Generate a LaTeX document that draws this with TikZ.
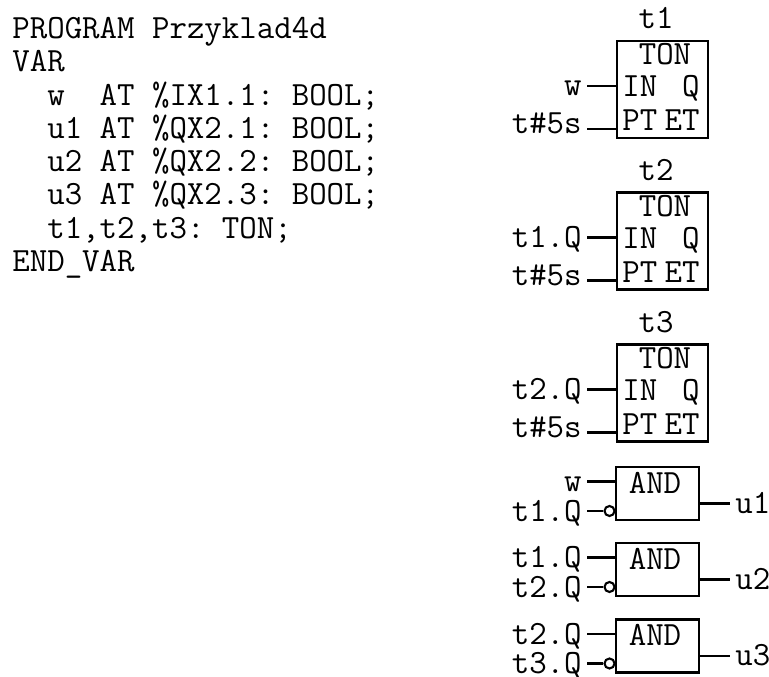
\documentclass[tikz,border=0pt]{standalone}
\begin{document}
\begin{tikzpicture}[
    x=1cm,y=1cm,
    every node/.style={font=\ttfamily\fontsize{19.3}{18.94}\selectfont\frenchspacing},
    block/.style={draw=black, line width=1.2pt},
    ton/.style={block, minimum width=1.82cm, minimum height=1.94cm},
    andgate/.style={block, minimum width=1.66cm, minimum height=1.06cm},
    neg/.style={draw=black, line width=1.2pt, circle, inner sep=0pt, minimum size=0.2cm},
    txt/.style={inner sep=0pt},
    lbl/.style={inner ysep=0pt, inner xsep=0.1cm},
    wire/.style={line width=1.3pt}
]
    \useasboundingbox (0,0) rectangle (15.38,13.54);

    \node[txt, anchor=north west, align=left] (code) at (0.24,13.2) {PROGRAM Przyklad4d\\VAR\\~~w~~AT \%IX1.1: BOOL;\\~~u1 AT \%QX2.1: BOOL;\\~~u2 AT \%QX2.2: BOOL;\\~~u3 AT \%QX2.3: BOOL;\\~~t1,t2,t3: TON;\\END\_VAR};

    % timers
    \foreach \n/\cy/\src in {1/11.75/w, 2/8.72/t1.Q, 3/5.68/t2.Q} {
        \node[ton] (t\n) at (13.25,\cy) {};
        \node[txt, anchor=base] (name\n) at (13.12,\cy+1.21) {t\n};
        \node[txt, anchor=base] (type\n) at (13.3,\cy+0.49) {TON};
        \node[txt, anchor=base west] (pin\n) at (12.44,\cy-0.15) {IN};
        \node[txt, anchor=base east] (q\n) at (14.0,\cy-0.15) {Q};
        \node[txt, anchor=base west] (pt\n) at (12.44,\cy-0.83) {PT};
        \node[txt, anchor=base east] (et\n) at (14.0,\cy-0.83) {ET};
        \node[lbl, anchor=base east] (in\n) at (11.74,\cy-0.13) {\src};
        \node[lbl, anchor=base east] (time\n) at (11.74,\cy-0.89) {t\#5s};
        \coordinate (ina\n) at (12.34,\cy+0.07);
        \coordinate (inb\n) at (12.34,\cy-0.79);
        \draw[wire] (in\n.east |- ina\n) -- (ina\n);
        \draw[wire] (time\n.east |- inb\n) -- (inb\n);
    }

    % and gates
    \foreach \n/\cy/\a/\b in {1/3.67/w/t1.Q, 2/2.15/t1.Q/t2.Q, 3/0.62/t2.Q/t3.Q} {
        \node[andgate] (g\n) at (13.15,\cy) {};
        \node[txt, anchor=base] (gname\n) at (13.1,\cy+0.0) {AND};
        \node[lbl, anchor=base east] (a\n) at (11.74,\cy+0.03) {\a};
        \node[lbl, anchor=base east] (b\n) at (11.74,\cy-0.56) {\b};
        \node[lbl, anchor=base west] (u\n) at (14.6,\cy-0.40) {u\n};
        \node[neg] (n\n) at (12.19,\cy-0.35) {};
        \coordinate (ga\n) at (12.30,\cy+0.24);
        \coordinate (gout\n) at (13.98,\cy-0.2);
        \draw[wire] (a\n.east |- ga\n) -- (ga\n);
        \draw[wire] (b\n.east |- n\n) -- (n\n.west);
        \draw[wire] (gout\n) -- (u\n.west |- gout\n);
    }
\end{tikzpicture}
\end{document}
